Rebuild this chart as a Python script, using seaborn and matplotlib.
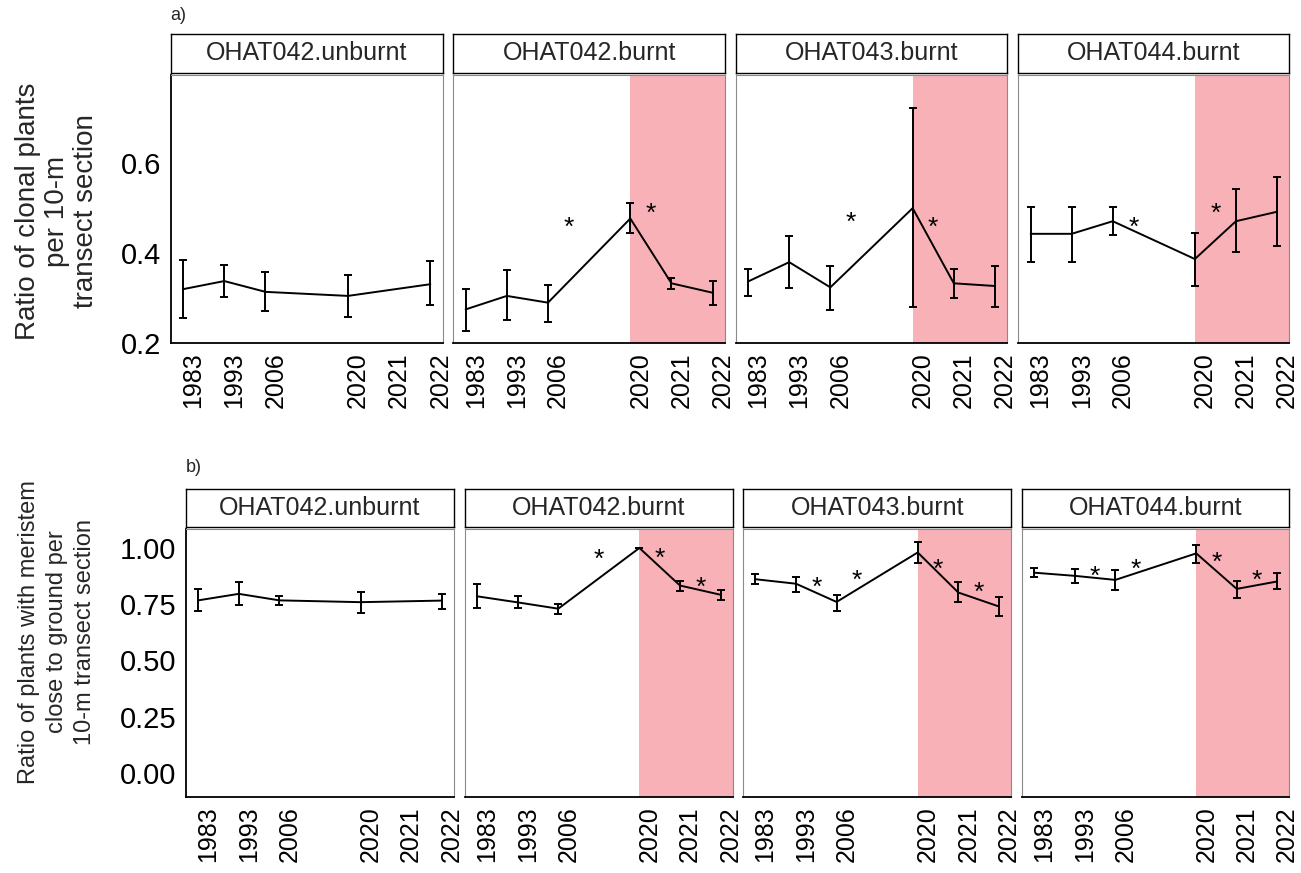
import numpy as np
import pandas as pd
import matplotlib
matplotlib.use("Agg")
import matplotlib.pyplot as plt
import seaborn as sns
from matplotlib.transforms import ScaledTranslation

sns.set_theme(style="white")
plt.rcParams["font.family"] = ["Liberation Sans", "DejaVu Sans"]

# ---- data -------------------------------------------------------------
years = ["1983", "1993", "2006", "2020", "2021", "2022"]
year_index = [1, 2, 3, 5, 6, 7]
sites = ["OHAT042.unburnt", "OHAT042.burnt", "OHAT043.burnt", "OHAT044.burnt"]
nan = np.nan

# a) ratio of clonal plants
clonal_mean = {
    "OHAT042.unburnt": [0.319, 0.337, 0.313, 0.304, nan, 0.330],
    "OHAT042.burnt":   [0.274, 0.304, 0.289, 0.476, 0.332, 0.311],
    "OHAT043.burnt":   [0.336, 0.379, 0.323, 0.499, 0.332, 0.326],
    "OHAT044.burnt":   [0.442, 0.442, 0.470, 0.386, 0.470, 0.491],
}
clonal_lo = {
    "OHAT042.unburnt": [0.254, 0.302, 0.270, 0.258, nan, 0.283],
    "OHAT042.burnt":   [0.226, 0.250, 0.247, 0.444, 0.319, 0.284],
    "OHAT043.burnt":   [0.304, 0.322, 0.273, 0.280, 0.300, 0.280],
    "OHAT044.burnt":   [0.380, 0.380, 0.439, 0.326, 0.401, 0.416],
}
clonal_hi = {
    "OHAT042.unburnt": [0.384, 0.373, 0.358, 0.350, nan, 0.382],
    "OHAT042.burnt":   [0.319, 0.362, 0.328, 0.510, 0.343, 0.338],
    "OHAT043.burnt":   [0.363, 0.437, 0.370, 0.721, 0.364, 0.371],
    "OHAT044.burnt":   [0.502, 0.502, 0.501, 0.444, 0.541, 0.569],
}
clonal_stars = {
    "OHAT042.unburnt": [],
    "OHAT042.burnt":   [(3.5, 0.473), (5.5, 0.504)],
    "OHAT043.burnt":   [(3.5, 0.484), (5.5, 0.473)],
    "OHAT044.burnt":   [(3.5, 0.473), (5.5, 0.504)],
}

# b) ratio of plants with meristem close to ground
meristem_mean = {
    "OHAT042.unburnt": [0.767, 0.796, 0.767, 0.759, nan, 0.766],
    "OHAT042.burnt":   [0.785, 0.758, 0.730, 1.000, 0.833, 0.792],
    "OHAT043.burnt":   [0.861, 0.841, 0.760, 0.980, 0.802, 0.740],
    "OHAT044.burnt":   [0.890, 0.876, 0.858, 0.976, 0.818, 0.851],
}
meristem_lo = {
    "OHAT042.unburnt": [0.718, 0.745, 0.748, 0.711, nan, 0.729],
    "OHAT042.burnt":   [0.733, 0.733, 0.707, 1.000, 0.810, 0.770],
    "OHAT043.burnt":   [0.839, 0.802, 0.718, 0.932, 0.760, 0.696],
    "OHAT044.burnt":   [0.870, 0.843, 0.811, 0.935, 0.777, 0.818],
}
meristem_hi = {
    "OHAT042.unburnt": [0.817, 0.848, 0.788, 0.802, nan, 0.796],
    "OHAT042.burnt":   [0.840, 0.788, 0.751, 1.000, 0.855, 0.812],
    "OHAT043.burnt":   [0.883, 0.873, 0.792, 1.027, 0.848, 0.782],
    "OHAT044.burnt":   [0.910, 0.907, 0.902, 1.013, 0.855, 0.888],
}
meristem_stars = {
    "OHAT042.unburnt": [],
    "OHAT042.burnt":   [(4.0, 0.983), (5.5, 0.986), (6.5, 0.858)],
    "OHAT043.burnt":   [(2.5, 0.858), (3.5, 0.888), (5.5, 0.939), (6.5, 0.836)],
    "OHAT044.burnt":   [(2.5, 0.907), (3.5, 0.939), (5.5, 0.969), (6.5, 0.888)],
}

fire_start = 5  # index of the 2020 survey (post-fire period)


def long_table(mean, lo, hi):
    rows = []
    for s in sites:
        for y, xi, m, l, h in zip(years, year_index, mean[s], lo[s], hi[s]):
            rows.append(dict(site=s, year=y, x=xi, mean=m, lo=l, hi=h))
    return pd.DataFrame(rows).dropna()


clonal = long_table(clonal_mean, clonal_lo, clonal_hi)
meristem = long_table(meristem_mean, meristem_lo, meristem_hi)

# ---- layout -----------------------------------------------------------
W, H, DPI = 1301, 873, 100
fig = plt.figure(figsize=(W / DPI, H / DPI), dpi=DPI)
fig.patch.set_facecolor("white")


def px_axes(left, right, top, bottom):
    return fig.add_axes([left / W, 1 - bottom / H, (right - left) / W, (bottom - top) / H])


PINK = "#F9B1B8"
GRAY = "#8a8a8a"
LW = 1.4

rows = [
    dict(df=clonal, stars=clonal_stars,
         lefts=[170.7, 453.3, 735.7, 1018.3], rights=[442.7, 725.0, 1007.3, 1289.3],
         strip=(34, 72.7), panel=(75, 342.7), ylim=(0.2, 0.795),
         yticks=[0.2, 0.4, 0.6], yfmt="{:.1f}",
         ylabel="Ratio of clonal plants\nper 10-m\ntransect section", ylabel_y=211,
         ylabel_fs=20, ylabel_ls=1.15, tag="a)", tag_y=15),
    dict(df=meristem, stars=meristem_stars,
         lefts=[186.0, 465.0, 743.3, 1022.3], rights=[454.0, 732.7, 1011.0, 1289.3],
         strip=(489.3, 527.3), panel=(529.3, 796.7), ylim=(-0.106, 1.083),
         yticks=[0.0, 0.25, 0.5, 0.75, 1.0], yfmt="{:.2f}",
         ylabel="Ratio of plants with meristem\nclose to ground per\n10-m transect section",
         ylabel_y=632, ylabel_fs=17, ylabel_ls=1.35, tag="b)", tag_y=468),
]

STAR_FS = 19
label_shift = ScaledTranslation(10 / DPI, 0, fig.dpi_scale_trans)

for r in rows:
    for i, s in enumerate(sites):
        left, right = r["lefts"][i], r["rights"][i]
        ax = px_axes(left, right, *r["panel"])
        sub = r["df"][r["df"].site == s]

        if s.endswith("burnt") and not s.endswith("unburnt"):
            ax.axvspan(fire_start, 8, color=PINK, lw=0, zorder=0)

        sns.lineplot(data=sub, x="x", y="mean", color="black", linewidth=LW,
                     errorbar=None, ax=ax, zorder=3)
        ax.errorbar(sub["x"], sub["mean"],
                    yerr=[sub["mean"] - sub["lo"], sub["hi"] - sub["mean"]],
                    fmt="none", ecolor="black", elinewidth=LW, capsize=2.6,
                    capthick=LW, zorder=4)

        for sx, sy in r["stars"][s]:
            ax.annotate("*", xy=(sx, sy), xytext=(0, -0.56 * STAR_FS),
                        textcoords="offset points", ha="center", va="baseline",
                        fontsize=STAR_FS, color="black", zorder=5)

        ax.set_xlim(0.7, 7.3)
        ax.set_ylim(*r["ylim"])
        ax.tick_params(axis="both", length=0, pad=7, colors="black")
        ax.set_xticks(year_index)
        ax.set_xticklabels(years, rotation=90, fontsize=18)
        ax.set_yticks(r["yticks"])
        if i == 0:
            ax.set_yticklabels([r["yfmt"].format(v) for v in r["yticks"]], fontsize=21)
        else:
            ax.set_yticklabels([])
        for lab in ax.get_xticklabels():
            lab.set_transform(lab.get_transform() + label_shift)
        ax.set_xlabel("")
        ax.set_ylabel("")
        ax.set_facecolor("white")

        for side in ("top", "right"):
            ax.spines[side].set_color(GRAY)
            ax.spines[side].set_linewidth(0.8)
        ax.spines["bottom"].set_color("black")
        ax.spines["bottom"].set_linewidth(1.3)
        ax.spines["left"].set_color("black" if i == 0 else GRAY)
        ax.spines["left"].set_linewidth(1.3 if i == 0 else 0.8)
        for sp in ax.spines.values():
            sp.set_visible(True)
            sp.set_zorder(6)

        # facet strip
        sax = px_axes(left, right, *r["strip"])
        sax.set_xticks([])
        sax.set_yticks([])
        sax.set_facecolor("white")
        for sp in sax.spines.values():
            sp.set_visible(True)
            sp.set_color("black")
            sp.set_linewidth(1.0)
        sax.text(0.5, 0.5, s, ha="center", va="center", fontsize=18,
                 transform=sax.transAxes)

    fig.text(r["lefts"][0] / W, 1 - r["tag_y"] / H, r["tag"], ha="left",
             va="center", fontsize=13)
    fig.text(57 / W, 1 - r["ylabel_y"] / H, r["ylabel"], rotation=90,
             ha="center", va="center", fontsize=r["ylabel_fs"],
             linespacing=r["ylabel_ls"], multialignment="center")

fig.savefig("out.png", dpi=DPI, facecolor="white")
